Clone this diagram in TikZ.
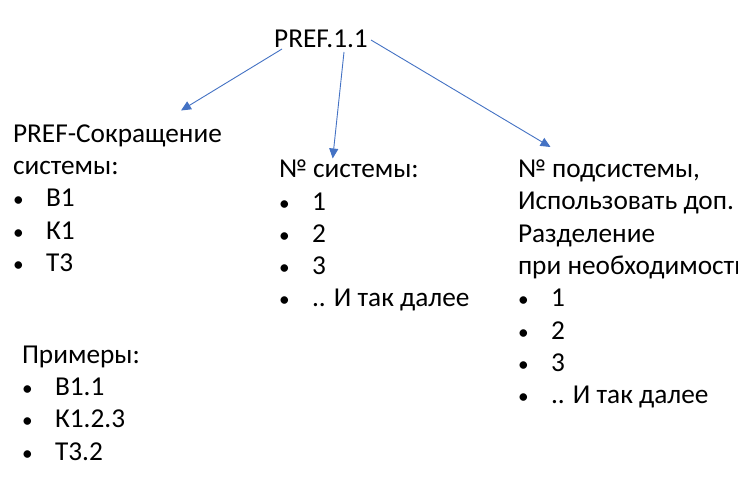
\documentclass[tikz,border=0pt]{standalone}
\usepackage{fontspec}
\setmainfont{Carlito}
\usetikzlibrary{arrows.meta}
\definecolor{arrowblue}{HTML}{4472C4}
\newcommand{\itembul}{\makebox[33pt][l]{\scalebox{0.78}{•}}}
\tikzset{
  txt/.style={inner sep=0pt, outer sep=0pt, anchor=base west,
    font=\fontsize{27.3}{32.3}\selectfont},
  conn/.style={draw=arrowblue, line width=0.9pt,
    -{Triangle[length=10pt,width=9pt]}, fill=none},
}
\begin{document}
\begin{tikzpicture}[x=1pt,y=-1pt]
\useasboundingbox (0,0) rectangle (738,503);
\clip (0,0) rectangle (738,503);
\fill[white] (0,0) rectangle (738,503);

\node[txt, anchor=base] (top) at (321,48) {PREF.1.1};

\node[txt] (left) at (13,142.3) {\begin{tabular}[t]{@{}l@{}}
PREF-Сокращение\\
системы:\\
\itembul В1\\
\itembul К1\\
\itembul Т3
\end{tabular}};

\node[txt] (examples) at (22,363.3) {\begin{tabular}[t]{@{}l@{}}
Примеры:\\
\itembul В1.1\\
\itembul К1.2.3\\
\itembul Т3.2
\end{tabular}};

\node[txt] (mid) at (279,177.7) {\begin{tabular}[t]{@{}l@{}}
№ системы:\\
\itembul 1\\
\itembul 2\\
\itembul 3\\
\itembul .. И так далее
\end{tabular}};

\node[txt] (right) at (518,177.5) {\begin{tabular}[t]{@{}l@{}}
№ подсистемы,\\
Использовать доп.\\
Разделение\\
при необходимости\\
\itembul 1\\
\itembul 2\\
\itembul 3\\
\itembul .. И так далее
\end{tabular}};

\coordinate (s1) at (282,49);
\coordinate (e1) at (181,110.5);
\coordinate (s2) at (344,52);
\coordinate (e2) at (332.7,158.5);
\coordinate (s3) at (371,40);
\coordinate (e3) at (550.5,147);

\draw[conn] (s1) -- (e1);
\draw[conn] (s2) -- (e2);
\draw[conn] (s3) -- (e3);
\end{tikzpicture}
\end{document}
